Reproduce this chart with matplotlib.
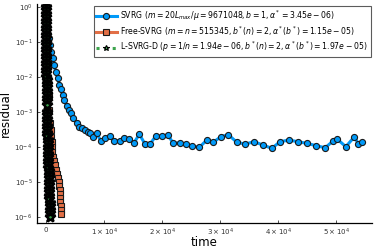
import matplotlib
matplotlib.use("Agg")
import matplotlib.pyplot as plt
import numpy as np

plt.rcParams['mathtext.fontset'] = 'dejavusans'

# SVRG
svrg_t = [0, 52, 103, 172, 224, 517, 690, 862, 1155, 1379, 1672, 2017, 2293, 2586, 2879,
          3155, 3569, 4017, 4310, 4707, 5293, 5741, 6155, 6724, 7293, 7586, 8155, 8741,
          9431, 10172, 11034, 11724, 12759, 13448, 14362, 15172, 16086, 17069, 17931,
          18914, 19948, 20983, 21948, 23103, 24138, 25121, 26431, 27707, 28845, 30121,
          31431, 32879, 34310, 35862, 37362, 38914, 40345, 41897, 43397, 44948, 46552,
          48103, 49534, 50224, 51672, 53155, 53845, 54534]
svrg_r = [1.0, 0.66, 0.45, 0.30, 0.193, 0.126, 0.0805, 0.0518, 0.0336, 0.0216, 0.0139,
          9.0e-3, 5.8e-3, 4.37e-3, 3.0e-3, 2.16e-3, 1.46e-3, 1.12e-3, 9.0e-4, 6.5e-4,
          4.67e-4, 3.72e-4, 3.36e-4, 3.0e-4, 2.69e-4, 2.51e-4, 1.86e-4, 2.42e-4, 1.48e-4,
          1.74e-4, 2.02e-4, 1.48e-4, 1.48e-4, 1.81e-4, 1.63e-4, 1.30e-4, 2.26e-4, 1.19e-4,
          1.19e-4, 2.02e-4, 2.02e-4, 2.16e-4, 1.25e-4, 1.30e-4, 1.17e-4, 1.05e-4, 9.6e-5,
          1.55e-4, 1.34e-4, 1.93e-4, 2.20e-4, 1.34e-4, 1.19e-4, 1.39e-4, 1.12e-4, 9.0e-5,
          1.39e-4, 1.55e-4, 1.39e-4, 1.25e-4, 1.07e-4, 9.35e-5, 1.48e-4, 1.63e-4, 1.0e-4,
          1.93e-4, 1.17e-4, 1.39e-4]

# Free-SVRG
free_t = [0, 52, 121, 207, 276, 345, 431, 552, 690, 828, 862, 948, 1000, 1069, 1138,
          1293, 1552, 1724, 1897, 2069, 2207, 2276, 2345, 2414, 2448, 2483, 2500, 2517, 2534]
free_r = [1.0, 0.42, 0.155, 0.058, 0.0216, 8.0e-3, 3.0e-3, 1.12e-3, 4.75e-4, 3.0e-4,
          1.89e-4, 1.36e-4, 9.8e-5, 7.1e-5, 5.1e-5, 3.9e-5, 3.0e-5, 2.16e-5, 1.66e-5,
          1.28e-5, 9.8e-6, 7.5e-6, 5.8e-6, 4.46e-6, 3.42e-6, 2.63e-6, 2.02e-6, 1.55e-6, 1.19e-6]

# L-SVRG-D
lsvrg_t = [0, 4, 8, 12, 16, 20, 24, 28, 32, 36, 40, 44, 48, 52, 56, 60, 65, 69, 73, 77,
           81, 85, 89, 93, 97, 101, 105, 109, 113, 121, 140, 159, 178, 197, 216, 235, 254,
           273, 292, 311, 330, 349, 368, 387, 406, 425, 444, 463, 482, 501, 520, 539, 558,
           577, 596, 615, 634, 652, 671, 690]
lsvrg_r = [1.0, 0.79, 0.63, 0.5, 0.4, 0.32, 0.25, 0.2, 0.16, 0.126, 0.1, 0.079, 0.063,
           0.05, 0.04, 0.032, 0.025, 0.02, 0.016, 0.0126, 0.01, 7.9e-3, 6.3e-3, 5.0e-3,
           4.0e-3, 3.2e-3, 2.5e-3, 2.0e-3, 1.6e-3, 1.0e-3, 7.9e-4, 6.3e-4, 5.0e-4, 4.0e-4,
           3.2e-4, 2.5e-4, 2.0e-4, 1.6e-4, 1.26e-4, 1.0e-4, 7.9e-5, 6.3e-5, 5.0e-5, 4.0e-5,
           3.2e-5, 2.5e-5, 2.0e-5, 1.6e-5, 1.26e-5, 1.0e-5, 7.9e-6, 6.3e-6, 5.0e-6, 4.0e-6,
           3.2e-6, 2.5e-6, 2.0e-6, 1.6e-6, 1.26e-6, 1.0e-6]

labels = [r"SVRG ($m = 20L_{max}/\mu = 9671048, b = 1, \alpha^* = 3.45e-06$)",
          r"Free-SVRG ($m = n = 515345, b^*(n) = 2, \alpha^*(b^*) = 1.15e-05$)",
          r"L-SVRG-D ($p = 1/n = 1.94e-06, b^*(n) = 2, \alpha^*(b^*) = 1.97e-05$)"]

xticks = [0, 10000, 20000, 30000, 40000, 50000]
xticklabels = ["0", r"$1\times10^{4}$", r"$2\times10^{4}$", r"$3\times10^{4}$",
               r"$4\times10^{4}$", r"$5\times10^{4}$"]
yticks = [1e0, 1e-1, 1e-2, 1e-3, 1e-4, 1e-5, 1e-6]
yticklabels = [r"$10^{0}$", r"$10^{-1}$", r"$10^{-2}$", r"$10^{-3}$", r"$10^{-4}$",
               r"$10^{-5}$", r"$10^{-6}$"]

fig = plt.figure(figsize=(3.74, 2.49), dpi=100)
ax = fig.add_axes([0.0976, 0.1056, 0.8974, 0.8784])

ax.plot(svrg_t, svrg_r, color='#009af9', lw=2.2, marker='o', ms=4.4,
        mfc='#009af9', mec='#1a1a1a', mew=0.8, label=labels[0], zorder=2)
ax.plot(free_t, free_r, color='#e26f46', lw=2.2, marker='s', ms=4.0,
        mfc='#e26f46', mec='#1a1a1a', mew=0.8, label=labels[1], zorder=3)
ax.plot(lsvrg_t, lsvrg_r, color='#3da44d', lw=2.2, ls=':', marker='*', ms=7,
        mfc='#3da44d', mec='black', mew=1.8, label=labels[2], zorder=4)

ax.set_yscale('log')
ax.set_xlim(-1638, 56200)
ax.set_ylim(10**-6.171, 10**0.077)
ax.set_xticks(xticks)
ax.set_xticklabels(xticklabels)
ax.set_yticks(yticks)
ax.set_yticklabels(yticklabels)
ax.minorticks_off()
ax.tick_params(direction='in', length=2.5, width=0.6, labelsize=5, colors='#333333',
               pad=3)
for s in ['top', 'right']:
    ax.spines[s].set_visible(False)
for s in ['left', 'bottom']:
    ax.spines[s].set_linewidth(0.9)

ax.set_xlabel('time', fontsize=8.5, labelpad=-1.5)
ax.set_ylabel('residual', fontsize=8.5, labelpad=2)

leg = ax.legend(loc='upper right', fontsize=5.6, frameon=True, fancybox=False,
                edgecolor='#333333', handlelength=2.6, borderpad=0.35,
                labelspacing=0.25, handletextpad=0.5, borderaxespad=0.2)
leg.get_frame().set_linewidth(0.8)
for h in leg.legend_handles:
    h.set_markersize(4.4)
leg.legend_handles[2].set_markeredgewidth(0.8)

fig.savefig('out.png', dpi=100)
